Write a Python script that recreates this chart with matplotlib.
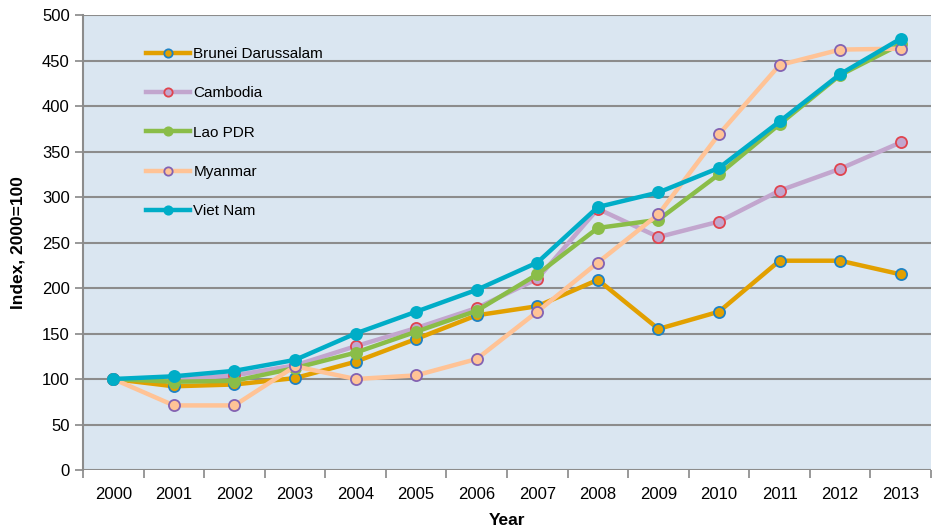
import numpy as np
import matplotlib.pyplot as plt

plt.rcParams.update({
    "font.family": ["Liberation Sans", "DejaVu Sans"],
    "font.size": 11,
})

years = ["2000", "2001", "2002", "2003", "2004", "2005", "2006",
         "2007", "2008", "2009", "2010", "2011", "2012", "2013"]

brunei = [100, 92, 94, 101, 119, 144, 170, 180, 209, 155, 174, 230, 230, 215]
cambodia = [100, 99, 104, 115, 136, 156, 178, 210, 287, 256, 273, 307, 331, 360]
lao = [100, 97, 98, 112, 129, 152, 175, 215, 266, 275, 325, 380, 434, 468]
myanmar = [100, 71, 71, 114, 100, 104, 122, 174, 228, 281, 369, 445, 462, 463]
viet_nam = [100, 103, 109, 121, 150, 174, 198, 228, 289, 305, 332, 383, 435, 474]

series = [
    ("Brunei Darussalam", brunei, "#E2A000", "#E2A000", "#1E82C4"),
    ("Cambodia", cambodia, "#C2A6CE", "#C2A6CE", "#E0444E"),
    ("Lao PDR", lao, "#8ABD48", "#8ABD48", "#8ABD48"),
    ("Myanmar", myanmar, "#FFC396", "#FFC396", "#8362B2"),
    ("Viet Nam", viet_nam, "#00ADC7", "#00ADC7", "#00ADC7"),
]

fig = plt.figure(figsize=(9.37, 5.32), dpi=100)
ax = fig.add_axes([0.0886, 0.1165, 0.905, 0.8553])
ax.set_facecolor("#DAE6F1")

x = np.arange(len(years))
for name, vals, lc, fc, ec in series:
    ax.plot(x, vals, color=lc, linewidth=3.2, marker="o", markersize=8,
            markerfacecolor=fc, markeredgecolor=ec, markeredgewidth=1.3,
            label=name, solid_joinstyle="round")

ax.set_xlim(-0.5, len(years) - 0.5)
ax.set_ylim(0, 500)
ax.set_yticks(np.arange(0, 501, 50))
ax.set_xticks(x)
ax.set_xticklabels(years)
ax.set_xticks(np.arange(-0.5, len(years), 1), minor=True)
ax.tick_params(axis="x", which="major", length=0, pad=12, labelsize=12)
ax.tick_params(axis="x", which="minor", length=6, color="#888888", width=1.2)
ax.tick_params(axis="y", length=6, color="#888888", width=1.2, labelsize=12)
ax.grid(axis="y", color="#8C8C8C", linewidth=1.5)
ax.set_axisbelow(True)

for side in ["top", "right", "bottom"]:
    ax.spines[side].set_visible(False)
ax.spines["left"].set_color("#8C8C8C")
ax.spines["left"].set_linewidth(1.5)

ax.set_xlabel("Year", fontweight="bold", fontsize=12.5, labelpad=8)
ax.set_ylabel("Index, 2000=100", fontweight="bold", fontsize=12.5, labelpad=12)

ax.legend(loc="upper left", bbox_to_anchor=(0.058, 0.96), frameon=False,
          fontsize=11, labelspacing=1.66, handlelength=2.9, handletextpad=0.2,
          markerscale=0.75)

fig.savefig("out.png", dpi=100)
